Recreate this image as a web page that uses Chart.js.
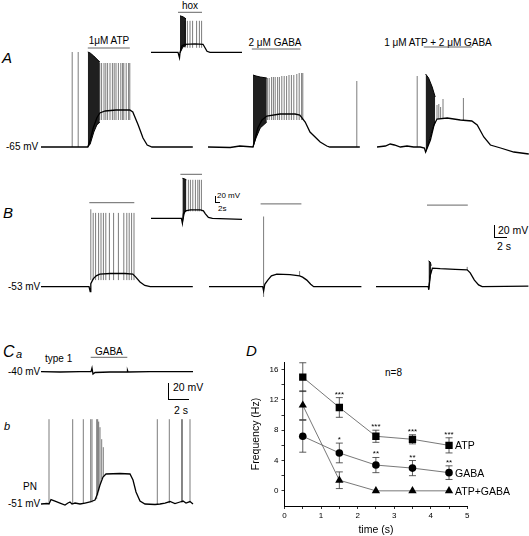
<!DOCTYPE html>
<html>
<head>
<meta charset="utf-8">
<script src="https://cdn.jsdelivr.net/npm/chart.js@4/dist/chart.umd.min.js"></script>
<style>
body{margin:0;background:#fff;width:529px;height:536px;overflow:hidden;position:relative;font-family:Arial,"Liberation Sans",Helvetica,sans-serif;color:#000;}
canvas{position:absolute;}
.t{position:absolute;font-size:10px;line-height:1;white-space:nowrap;transform:translateY(-50%);}
.c{transform:translate(-50%,-50%);}
.it{font-style:italic;}
.sb{position:absolute;border-left:1px solid #000;border-bottom:1px solid #000;}
</style>
</head>
<body>
<div class="t it" style="left:2px;top:57px;font-size:15px">A</div>
<div class="t c" style="left:109px;top:41px">1μM ATP</div>
<div class="t c" style="left:190px;top:6px">hox</div>
<div class="t c" style="left:275px;top:43px">2 μM GABA</div>
<div class="t c" style="left:438px;top:43px">1 μM ATP + 2 μM GABA</div>
<div class="t" style="left:6px;top:147px">-65 mV</div>

<div class="t it" style="left:3px;top:212px;font-size:15px">B</div>
<div class="t" style="left:8px;top:287px">-53 mV</div>
<div class="t" style="left:217px;top:196px;font-size:8px">20 mV</div>
<div class="t" style="left:218px;top:209px;font-size:8px">2s</div>
<div class="sb" style="left:215px;top:196px;width:4px;height:6px"></div>
<div class="t" style="left:498px;top:230px;font-size:10.5px">20 mV</div>
<div class="t" style="left:497px;top:246px;font-size:10.5px">2 s</div>
<div class="sb" style="left:494px;top:225px;width:12px;height:12px"></div>

<div class="t it" style="left:3px;top:352px;font-size:16px">C</div>
<div class="t it" style="left:16px;top:354px;font-size:11px">a</div>
<div class="t" style="left:45px;top:359px">type 1</div>
<div class="t" style="left:95px;top:352px">GABA</div>
<div class="t" style="left:8px;top:372px">-40 mV</div>
<div class="t" style="left:173px;top:387px;font-size:10.5px">20 mV</div>
<div class="t" style="left:174px;top:410px;font-size:10.5px">2 s</div>
<div class="sb" style="left:168px;top:383px;width:20px;height:16px"></div>
<div class="t it" style="left:4px;top:426px;font-size:11px">b</div>
<div class="t" style="left:23px;top:487px">PN</div>
<div class="t" style="left:8px;top:504px">-51 mV</div>

<div class="t it" style="left:246px;top:350px;font-size:15px">D</div>
<div class="t" style="left:385px;top:373px">n=8</div>

<canvas id="freq" width="284" height="196" style="left:245px;top:340px"></canvas>

<script>
// time in s, membrane potential in mV; spikes/bursts are [t, low, high]
// A: 1 uM ATP
var a1Path = [[0,-65],[4.8,-65],[7.8,-65],[8.2,-58],[8.7,-46],[9.3,-36],[9.8,-31],[10.7,-29],[12.5,-28],[14.8,-28],[15.3,-30],[16.2,-43],[17.0,-56],[17.7,-63],[18.5,-65],[25.3,-65]];
var a1Burst = [[7.8,-65,30],[8.2,-62,29],[8.8,-50,26],[9.3,-43,23],[9.8,-40,20]];
var a1Spikes = [[5.2,-65,30],[6.2,-65,30],[9.8,-38,19],[10.1,-38,19],[10.5,-38,19],[10.8,-38,19],[11.1,-38,19],[11.5,-38,19],[11.9,-38,19],[12.2,-38,19],[12.5,-38,19],[12.9,-38,19],[13.3,-38,19],[13.6,-38,19],[13.8,-38,19],[14.2,-38,19],[14.6,-38,19],[14.8,-38,19]];
var a1Drug = [7.8, 14.8, 34];

// A inset: hox
var aInPath = [[0,-60],[13.5,-60],[14.25,-71],[14.5,-61],[15,-53],[15.5,-47],[17,-44],[22,-43],[26,-44],[27,-51],[28,-58],[29.5,-60],[45.5,-60]];
var aInBurst = [[14.5,-61,13],[16,-49,11],[17.5,-47,7]];
var aInSpikes = [[17,-51,3],[18.2,-51,3],[19.5,-51,3],[20.8,-51,3],[22.8,-51,3],[24.2,-51,3],[25.3,-51,3]];
var aInDrug = [13.5, 25.5, 20];

// A: 2 uM GABA
var a2Path = [[0,-65],[3.7,-65.5],[5.3,-64],[7.5,-65],[7.8,-58],[8.3,-46],[9.0,-38],[9.8,-34],[12.0,-32],[14.5,-32],[15.3,-33],[16.2,-40],[17.0,-50],[18.7,-60],[19.8,-64],[20.3,-65],[25.3,-65]];
var a2Burst = [[7.5,-65,7],[8.0,-56,6],[8.7,-46,5],[9.8,-40,4]];
var a2Spikes = [[9.9,-38,4],[10.2,-38,4],[10.6,-38,5],[10.9,-38,5],[11.2,-38,5],[11.6,-38,5],[11.9,-38,5],[12.3,-38,6],[12.7,-38,6],[13.1,-38,6],[13.5,-38,7],[13.9,-38,7],[14.3,-38,7],[14.8,-38,8],[15.2,-38,9],[15.6,-38,9],[15.8,-38,9],[24.8,-65,1]];
var a2Drug = [7.3, 15.4, 33];

// A: 1 uM ATP + 2 uM GABA
var a3Path = [[0,-65],[1.4,-64],[2.2,-62],[2.9,-63],[3.9,-65],[5.0,-64],[6.1,-65],[7.2,-65],[7.9,-66],[8.1,-70],[8.9,-58],[9.5,-43],[10.0,-37],[11.7,-36],[13.9,-38],[15.8,-39],[16.7,-43],[17.8,-55],[18.9,-63],[20.6,-66],[22.8,-70],[25.3,-72]];
var a3Burst = [[8.1,-70,8],[8.6,-61,4],[9.2,-48,-5],[9.7,-40,-15]];
var a3Spikes = [[6.7,-65,6],[10.0,-37,-23],[10.3,-37,-22],[10.6,-37,-25],[11.0,-37,-17],[14.4,-38,-16]];
var a3Drug = [7.8, 15.8, 35];

// B: ATP
var b1Path = [[0,-53],[8.0,-53],[8.2,-61],[8.3,-48],[8.7,-40],[9.2,-35],[9.8,-32],[11.5,-31],[14.0,-31],[15.3,-32],[15.8,-37],[16.5,-45],[17.3,-51],[18.2,-53],[25.3,-53]];
var b1Spikes = [[8.3,-42,76],[8.7,-42,70],[9.1,-42,70],[9.6,-42,70],[10.0,-42,70],[10.4,-42,70],[10.8,-42,70],[11.4,-42,70],[12.1,-42,70],[12.9,-42,70],[13.8,-42,70],[14.3,-42,70],[14.7,-42,70],[15.1,-42,70],[15.5,-42,70]];
var b1Drug = [8.05, 15.55, 87];

// B inset: hox
var bInPath = [[0,-60],[15.2,-60],[15.7,-70],[16.2,-51],[17.2,-45],[19.7,-43],[24.7,-43],[26.2,-45],[27.2,-51],[28.7,-58],[30.7,-60],[45.5,-62]];
var bInBurst = [[15.7,-69,20],[16.7,-49,19],[17.7,-45,17]];
var bInSpikes = [[18.7,-46,17],[19.7,-46,17],[20.9,-46,17],[22.2,-46,17],[23.4,-46,17],[24.2,-46,17],[25.2,-46,17]];
var bInDrug = [14.7, 25.5, 28];

// B: GABA
var b2Path = [[0,-53],[8.95,-53],[9.1,-60],[9.3,-49],[9.8,-42],[10.4,-35],[11.3,-32],[13.5,-33],[15.1,-35],[15.6,-37],[16.3,-42],[16.95,-49],[17.45,-53],[25.4,-53]];
var b2Spikes = [[9.1,-70,64],[15.1,-35,-27]];
var b2Drug = [8.6, 15.4, 85];

// B: ATP + GABA
var b3Path = [[0,-53],[8.7,-53],[8.8,-58],[9.05,-34],[9.4,-22],[10.7,-23],[13.2,-24],[15.2,-25],[15.7,-30],[16.4,-42],[17.1,-50],[17.7,-53],[25.4,-52]];
var b3Burst = [[8.75,-58,-10],[9.05,-34,-12],[9.2,-25,-18]];
var b3Spikes = [[15.2,-25,-20]];
var b3Drug = [8.5, 15.3, 83];

// Ca: type 1 cell, GABA
var caPath = [[0,-40],[1.9,-40.4],[3.9,-39.8],[5.0,-40],[5.1,-35.4],[5.2,-42.9],[5.4,-41],[6.9,-40.4],[8.6,-40.4],[8.65,-38.5],[8.7,-40.4],[10.9,-39.8],[15.2,-40]];
var caDrug = [4.97, 8.63, -22];

// Cb: PN, GABA
var cbPath = [[0,-51],[0.6,-50.4],[0.8,-51],[1.0,-45.4],[1.4,-47.3],[1.9,-49.8],[2.4,-52.3],[2.7,-49.8],[2.9,-48.5],[3.1,-51],[3.4,-49.8],[3.9,-51],[4.4,-49.8],[4.9,-48.5],[5.4,-46],[5.6,-39.8],[5.9,-27.3],[6.2,-17.3],[6.5,-13.5],[7.9,-12.9],[8.9,-13.5],[9.2,-21],[9.5,-36],[9.9,-47.3],[10.4,-51],[11.4,-51.6],[11.9,-51],[12.4,-49.8],[12.9,-47.9],[13.4,-50.4],[13.9,-48.5],[14.2,-47.3],[14.5,-49.8],[14.9,-47.9],[15.2,-51]];
var cbSpikes = [[0.8,-51,55],[3.17,-51,55],[4.23,-50,55],[4.97,-49,55],[5.1,-49,55],[5.57,-45,55],[5.67,-40,55],[5.77,-35,52],[5.9,-27,45],[6.07,-20,30],[6.23,-17,20],[11.63,-51,55],[12.83,-50,55],[14.07,-49,55],[14.13,-49,55],[14.9,-48,55]];

// D: firing frequency (Hz) vs time (s), mean and error
var times = [0.5, 1.5, 2.5, 3.5, 4.5];
var atpMean = [15.0, 11.0, 7.2, 6.8, 6.0];
var atpErr = [1.9, 1.3, 0.8, 0.6, 1.0];
var gabaMean = [7.2, 5.0, 3.4, 3.0, 2.4];
var gabaErr = [2.1, 1.3, 1.0, 1.0, 0.9];
var bothMean = [11.3, 1.4, 0, 0, 0];
var bothErr = [1.9, 1.1, 0, 0, 0];
var atpStars = ["", "***", "***", "***", "***"];
var gabaStars = ["", "*", "**", "**", "**"];
var bothStars = ["", "", "", "", ""];

Chart.defaults.font.family = 'Arial, "Liberation Sans", Helvetica, sans-serif';
Chart.defaults.color = "#000";

function pathSet(arr) {
    return { data: arr.map(p => ({ x: p[0], y: p[1] })), borderColor: "#000", borderWidth: 1.3, fill: false, clip: false };
}

function spikeSet(arr) {
    var d = [];
    arr.forEach(s => {
        d.push({ x: s[0], y: s[1] }, { x: s[0], y: s[2] }, { x: s[0], y: null });
    });
    return { data: d, borderColor: "rgba(0,0,0,0.65)", borderWidth: 0.8, spanGaps: false, fill: false, clip: false };
}

function burstSets(arr) {
    return [
        { data: arr.map(b => ({ x: b[0], y: b[2] })), borderColor: "#000", borderWidth: 1, backgroundColor: "rgba(0,0,0,0.88)", fill: "+1", clip: false },
        { data: arr.map(b => ({ x: b[0], y: b[1] })), borderColor: "#000", borderWidth: 1, fill: false, clip: false }
    ];
}

function drugSet(d) {
    return { data: [{ x: d[0], y: d[2] }, { x: d[1], y: d[2] }], borderColor: "#666", borderWidth: 1, fill: false, clip: false };
}

// box = [left (t=0), top, width, height] in page px; cal maps mV/s to px
function traceChart(box, cal, sets) {
    var c = document.createElement("canvas");
    c.width = box[2];
    c.height = box[3];
    c.style.left = box[0] + "px";
    c.style.top = box[1] + "px";
    document.body.appendChild(c);
    var vTop = cal.vRef + (cal.yRef - box[1]) / cal.pxPerMv;
    new Chart(c, {
        type: "line",
        data: { datasets: sets },
        options: {
            responsive: false,
            animation: false,
            events: [],
            layout: { padding: 0 },
            plugins: { legend: { display: false }, tooltip: { enabled: false } },
            elements: { point: { radius: 0 }, line: { tension: 0 } },
            scales: {
                x: { type: "linear", display: false, min: 0, max: box[2] / cal.pxPerS },
                y: { type: "linear", display: false, max: vTop, min: vTop - box[3] / cal.pxPerMv }
            }
        }
    });
}

var calA = { vRef: -65, yRef: 147, pxPerMv: 1, pxPerS: 6 };
var calB = { vRef: -53, yRef: 286.7, pxPerMv: 0.6, pxPerS: 6 };

traceChart([41, 30, 156, 130], calA, [drugSet(a1Drug), spikeSet(a1Spikes)].concat(burstSets(a1Burst), [pathSet(a1Path)]));
traceChart([151, 0, 95, 65], { vRef: -60, yRef: 52.3, pxPerMv: 0.5, pxPerS: 2 }, [drugSet(aInDrug), spikeSet(aInSpikes)].concat(burstSets(aInBurst), [pathSet(aInPath)]));
traceChart([208, 30, 156, 130], calA, [drugSet(a2Drug), spikeSet(a2Spikes)].concat(burstSets(a2Burst), [pathSet(a2Path)]));
traceChart([376.7, 30, 153, 130], calA, [drugSet(a3Drug), spikeSet(a3Spikes)].concat(burstSets(a3Burst), [pathSet(a3Path)]));

traceChart([41, 190, 156, 110], calB, [drugSet(b1Drug), spikeSet(b1Spikes), pathSet(b1Path)]);
traceChart([150.7, 165, 95, 65], { vRef: -60, yRef: 218.3, pxPerMv: 0.5, pxPerS: 2 }, [drugSet(bInDrug), spikeSet(bInSpikes)].concat(burstSets(bInBurst), [pathSet(bInPath)]));
traceChart([209.3, 190, 156, 115], calB, [drugSet(b2Drug), spikeSet(b2Spikes), pathSet(b2Path)]);
traceChart([375.7, 190, 154, 110], calB, [drugSet(b3Drug), spikeSet(b3Spikes)].concat(burstSets(b3Burst), [pathSet(b3Path)]));

traceChart([41, 350, 156, 30], { vRef: -40, yRef: 371.7, pxPerMv: 0.8, pxPerS: 10 }, [drugSet(caDrug), pathSet(caPath)]);
traceChart([41, 410, 156, 105], { vRef: -51, yRef: 504, pxPerMv: 0.8, pxPerS: 10 }, [spikeSet(cbSpikes), pathSet(cbPath)]);

// error bars, significance stars and series names for panel D
var freqMarks = {
    id: "freqMarks",
    beforeDatasetsDraw(chart) {
        var ctx = chart.ctx, xs = chart.scales.x, ys = chart.scales.y;
        ctx.save();
        ctx.strokeStyle = "#333";
        ctx.lineWidth = 0.8;
        chart.data.datasets.forEach(ds => {
            ds.data.forEach((p, i) => {
                var e = ds.errs[i];
                if (!e) return;
                var x = xs.getPixelForValue(p.x);
                var y1 = ys.getPixelForValue(p.y + e), y2 = ys.getPixelForValue(p.y - e);
                ctx.beginPath();
                ctx.moveTo(x, y1); ctx.lineTo(x, y2);
                ctx.moveTo(x - 3.5, y1); ctx.lineTo(x + 3.5, y1);
                ctx.moveTo(x - 3.5, y2); ctx.lineTo(x + 3.5, y2);
                ctx.stroke();
            });
        });
        ctx.restore();
    },
    afterDatasetsDraw(chart) {
        var ctx = chart.ctx, xs = chart.scales.x, ys = chart.scales.y;
        ctx.save();
        ctx.fillStyle = "#000";
        chart.data.datasets.forEach(ds => {
            ctx.font = "8px Arial, 'Liberation Sans', sans-serif";
            ctx.textAlign = "center";
            ctx.textBaseline = "alphabetic";
            ds.data.forEach((p, i) => {
                if (!ds.stars[i]) return;
                var x = xs.getPixelForValue(p.x);
                var y = ys.getPixelForValue(p.y + ds.errs[i]);
                ctx.fillText(ds.stars[i], x, y - 1);
            });
            var last = ds.data[ds.data.length - 1];
            ctx.font = "10.5px Arial, 'Liberation Sans', sans-serif";
            ctx.textAlign = "left";
            ctx.textBaseline = "middle";
            ctx.fillText(ds.label, xs.getPixelForValue(last.x) + 6, ys.getPixelForValue(last.y) + 1);
        });
        ctx.restore();
    }
};

function pts(m) {
    return times.map((t, i) => ({ x: t, y: m[i] }));
}

new Chart(document.getElementById("freq"), {
    type: "line",
    data: {
        datasets: [
            { label: "ATP", data: pts(atpMean), errs: atpErr, stars: atpStars, pointStyle: "rect", pointRadius: 5.2 },
            { label: "GABA", data: pts(gabaMean), errs: gabaErr, stars: gabaStars, pointStyle: "circle", pointRadius: 3.8 },
            { label: "ATP+GABA", data: pts(bothMean), errs: bothErr, stars: bothStars, pointStyle: "triangle", pointRadius: 4.8 }
        ]
    },
    options: {
        responsive: false,
        animation: false,
        events: [],
        layout: { padding: { top: 22, right: 61.7, left: 0, bottom: 0 } },
        plugins: { legend: { display: false }, tooltip: { enabled: false } },
        elements: {
            line: { borderColor: "#555", borderWidth: 0.8, tension: 0, fill: false },
            point: { backgroundColor: "#000", borderColor: "#000", borderWidth: 0 }
        },
        scales: {
            x: {
                type: "linear",
                min: 0,
                max: 5,
                afterFit: s => { s.height = 30; },
                afterBuildTicks: s => { s.ticks = [0, 0.5, 1, 1.5, 2, 2.5, 3, 3.5, 4, 4.5, 5].map(v => ({ value: v })); },
                border: { display: true, color: "#000", width: 1 },
                grid: { drawOnChartArea: false, drawTicks: true, tickLength: 3, tickColor: "#000", tickWidth: 0.8 },
                ticks: { autoSkip: false, maxRotation: 0, padding: 2, font: { size: 8 }, callback: v => Number.isInteger(v) ? v : "" },
                title: { display: true, text: "time (s)", font: { size: 10.5 }, padding: { top: 0, bottom: 0 } }
            },
            y: {
                type: "linear",
                min: -2,
                max: 17,
                afterFit: s => { s.width = 39.5; },
                afterBuildTicks: s => { s.ticks = [0, 2, 4, 6, 8, 10, 12, 14, 16].map(v => ({ value: v })); },
                border: { display: true, color: "#000", width: 1 },
                grid: { drawOnChartArea: false, drawTicks: true, tickLength: 3, tickColor: "#000", tickWidth: 0.8 },
                ticks: { autoSkip: false, padding: 3, font: { size: 8 }, callback: v => v % 4 === 0 ? v : "" },
                title: { display: true, text: "Frequency (Hz)", font: { size: 10.5 }, padding: { top: 5, bottom: 5 } }
            }
        }
    },
    plugins: [freqMarks]
});
</script>
</body>
</html>
